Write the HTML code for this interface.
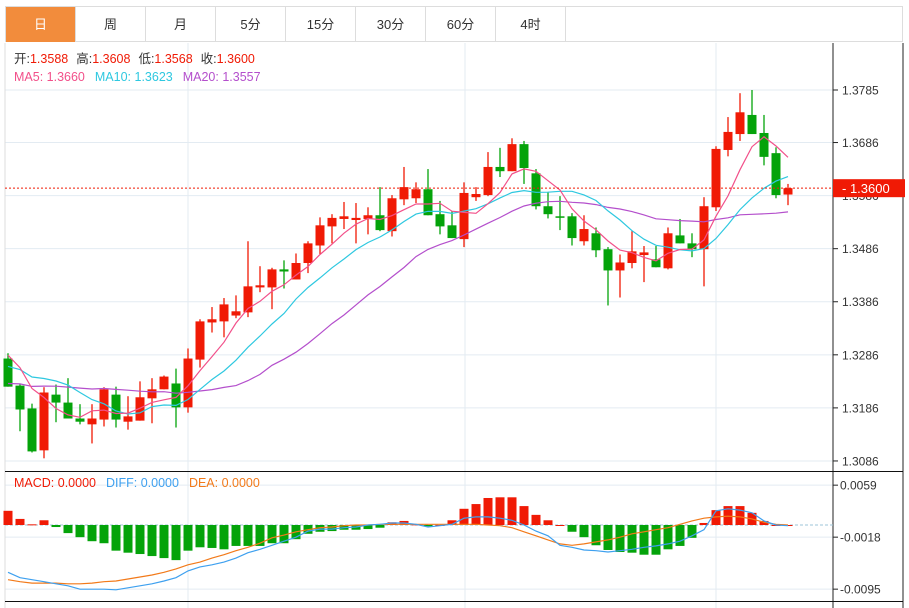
<!DOCTYPE html>
<html><head><meta charset="utf-8">
<style>
body{margin:0;width:909px;height:608px;background:#fff;overflow:hidden;font-family:"Liberation Sans","Noto Sans CJK SC",sans-serif;}
#tabs{position:absolute;left:5px;top:6px;width:898px;height:36px;border:1px solid #ddd;box-sizing:border-box;}
.tab{position:absolute;top:0;height:35px;width:70px;line-height:35px;text-align:center;font-size:13px;color:#333;border-right:1px solid #ddd;box-sizing:border-box;}
.tab.on{background:#f28c3c;color:#fff;}
svg{position:absolute;left:0;top:0;}
</style></head><body>
<div id="tabs">
<div class="tab on" style="left:0">日</div>
<div class="tab" style="left:70px">周</div>
<div class="tab" style="left:140px">月</div>
<div class="tab" style="left:210px">5分</div>
<div class="tab" style="left:280px">15分</div>
<div class="tab" style="left:350px">30分</div>
<div class="tab" style="left:420px">60分</div>
<div class="tab" style="left:490px">4时</div>
</div>
<svg id="chart" width="909" height="608"></svg>
<script>
const opens =[1.3279,1.3228,1.3185,1.3106,1.3211,1.3196,1.3166,1.3155,1.3164,1.3211,1.3160,1.3162,1.3204,1.3221,1.3232,1.3187,1.3277,1.3347,1.3349,1.3360,1.3366,1.3413,1.3413,1.3447,1.3428,1.3459,1.3492,1.3528,1.3542,1.3540,1.3542,1.3549,1.3519,1.3579,1.3581,1.3598,1.3551,1.3530,1.3504,1.3583,1.3587,1.3640,1.3632,1.3683,1.3628,1.3566,1.3547,1.3547,1.3500,1.3515,1.3485,1.3445,1.3459,1.3474,1.3466,1.3449,1.3511,1.3496,1.3485,1.3564,1.3672,1.3702,1.3738,1.3704,1.3666,1.3588];
const highs =[1.3289,1.3232,1.3194,1.3225,1.3230,1.3242,1.3193,1.3193,1.3225,1.3226,1.3208,1.3236,1.3242,1.3247,1.3260,1.3298,1.3353,1.3376,1.3393,1.3398,1.3500,1.3453,1.3450,1.3464,1.3477,1.3500,1.3545,1.3551,1.3574,1.3572,1.3564,1.3602,1.3587,1.3640,1.3611,1.3636,1.3576,1.3557,1.3611,1.3602,1.3668,1.3676,1.3694,1.3689,1.3636,1.3593,1.3585,1.3553,1.3549,1.3526,1.3489,1.3475,1.3519,1.3491,1.3491,1.3526,1.3542,1.3515,1.3583,1.3679,1.3734,1.3779,1.3785,1.3738,1.3677,1.3608];
const lows  =[1.3226,1.3142,1.3102,1.3091,1.3159,1.3166,1.3155,1.3119,1.3151,1.3149,1.3145,1.3162,1.3157,1.3221,1.3149,1.3177,1.3262,1.3328,1.3319,1.3355,1.3357,1.3404,1.3372,1.3411,1.3428,1.3440,1.3476,1.3496,1.3523,1.3496,1.3513,1.3519,1.3509,1.3568,1.3572,1.3549,1.3513,1.3506,1.3489,1.3576,1.3585,1.3621,1.3632,1.3608,1.3560,1.3543,1.3521,1.3492,1.3492,1.3470,1.3379,1.3394,1.3449,1.3423,1.3451,1.3447,1.3496,1.3470,1.3415,1.3557,1.3660,1.3689,1.3702,1.3643,1.3581,1.3568];
const closes=[1.3226,1.3183,1.3104,1.3215,1.3196,1.3166,1.3160,1.3166,1.3221,1.3164,1.3170,1.3206,1.3221,1.3245,1.3187,1.3279,1.3349,1.3353,1.3381,1.3368,1.3415,1.3417,1.3447,1.3443,1.3459,1.3496,1.3530,1.3544,1.3547,1.3544,1.3549,1.3521,1.3581,1.3602,1.3598,1.3549,1.3528,1.3506,1.3591,1.3589,1.3640,1.3632,1.3683,1.3638,1.3566,1.3551,1.3545,1.3506,1.3523,1.3483,1.3445,1.3460,1.3481,1.3479,1.3451,1.3515,1.3496,1.3485,1.3566,1.3674,1.3706,1.3743,1.3702,1.3659,1.3587,1.3600];
const priorCloses=[1.3200,1.3200,1.3200,1.3200,1.3200,1.3200,1.3200,1.3200,1.3200,1.3200,1.3243,1.3243,1.3243,1.3243,1.3243,1.3300,1.3300,1.3300,1.3300];
const diffVals=[-0.0070,-0.0078,-0.0081,-0.0084,-0.0087,-0.0090,-0.0095,-0.0095,-0.0095,-0.0096,-0.0093,-0.0090,-0.0087,-0.0083,-0.0078,-0.0068,-0.0062,-0.0059,-0.0055,-0.0049,-0.0041,-0.0036,-0.0030,-0.0024,-0.0018,-0.0009,-0.0006,-0.0006,-0.0004,-0.0003,0.0000,0.0001,0.0003,0.0003,0.0001,-0.0003,-0.0001,0.0001,0.0010,0.0012,0.0012,0.0010,0.0007,0.0000,-0.0009,-0.0016,-0.0030,-0.0033,-0.0037,-0.0038,-0.0040,-0.0038,-0.0036,-0.0033,-0.0031,-0.0028,-0.0024,-0.0016,-0.0007,0.0021,0.0024,0.0022,0.0018,0.0006,0.0000,-0.0001];
const deaVals=[-0.0081,-0.0084,-0.0086,-0.0086,-0.0086,-0.0087,-0.0087,-0.0086,-0.0084,-0.0083,-0.0080,-0.0077,-0.0074,-0.0070,-0.0065,-0.0059,-0.0055,-0.0049,-0.0044,-0.0038,-0.0033,-0.0027,-0.0019,-0.0015,-0.0010,-0.0007,-0.0004,-0.0003,-0.0001,0.0000,0.0000,0.0001,0.0001,0.0001,0.0001,0.0001,0.0001,0.0001,0.0001,0.0001,0.0000,-0.0001,-0.0004,-0.0010,-0.0016,-0.0022,-0.0028,-0.0030,-0.0028,-0.0025,-0.0022,-0.0018,-0.0013,-0.0010,-0.0007,-0.0004,0.0001,0.0006,0.0010,0.0012,0.0013,0.0012,0.0009,0.0004,0.0001,0.0000];
const macdVals=[0.0021,0.0009,0.0001,0.0007,-0.0003,-0.0012,-0.0018,-0.0024,-0.0027,-0.0038,-0.0041,-0.0043,-0.0046,-0.0049,-0.0052,-0.0038,-0.0033,-0.0034,-0.0036,-0.0031,-0.0031,-0.0031,-0.0027,-0.0027,-0.0021,-0.0013,-0.0010,-0.0009,-0.0007,-0.0007,-0.0006,-0.0004,0.0004,0.0006,0.0001,-0.0002,0.0000,0.0007,0.0024,0.0031,0.0040,0.0041,0.0041,0.0028,0.0015,0.0007,0.0000,-0.0010,-0.0018,-0.0030,-0.0037,-0.0040,-0.0041,-0.0044,-0.0044,-0.0036,-0.0031,-0.0019,0.0003,0.0022,0.0028,0.0028,0.0018,0.0006,0.0000,0.0000];
const priceTicks=[1.3785,1.3686,1.3586,1.3486,1.3386,1.3286,1.3186,1.3086];
const macdTicks=[0.0059,-0.0018,-0.0095];
const lastPrice=1.3600;

const NS='http://www.w3.org/2000/svg';
const svg=document.getElementById('chart');
function mk(tag,attrs,parent){const e=document.createElementNS(NS,tag);for(const k in attrs)e.setAttribute(k,attrs[k]);(parent||svg).appendChild(e);return e;}
const L=5,R=833;
const yP=p=>90+(1.3785-p)*5307;
const yM=v=>525-v*6753;
const xI=i=>8+i*12;

priceTicks.forEach(t=>{const g=mk('line',{x1:L,x2:R,y1:yP(t),y2:yP(t),stroke:'#e3ebf2','stroke-width':1});

});
macdTicks.forEach(t=>{const g=mk('line',{x1:L,x2:R,y1:yM(t),y2:yM(t),stroke:'#e3ebf2','stroke-width':1});

});
[188,465,716].forEach(x=>{mk('line',{x1:x,x2:x,y1:43,y2:608,stroke:'#e3ebf2','stroke-width':1});});
mk('line',{x1:L,x2:L,y1:43,y2:608,stroke:'#ddd'});
mk('line',{x1:903,x2:903,y1:43,y2:608,stroke:'#222'});
mk('line',{x1:R,x2:R,y1:43,y2:608,stroke:'#222'});
mk('line',{x1:L,x2:903,y1:471.5,y2:471.5,stroke:'#111'});
mk('line',{x1:L,x2:903,y1:601.5,y2:601.5,stroke:'#111'});

opens.forEach((o,i)=>{const c=closes[i],up=c>=o,col=up?'#f01a05':'#04a30a',x=xI(i);
const w=mk('line',{x1:x,x2:x,y1:yP(highs[i]),y2:yP(lows[i]),stroke:col,'stroke-width':1.3});


const t=Math.min(yP(o),yP(c)),h=Math.max(1.5,Math.abs(yP(o)-yP(c)));
const b=mk('rect',{x:x-4.5,y:t,width:9,height:h,fill:col});

});

const all=priorCloses.concat(closes),off=priorCloses.length;
function ma(n){return closes.map((_,i)=>{let s=0;for(let k=0;k<n;k++)s+=all[off+i-k];return s/n;});}
function line(vals,fy,col,name,sw){const d=vals.map((v,i)=>(i?'L':'M')+xI(i)+','+fy(v).toFixed(1)).join('');
const p=mk('path',{d:d,fill:'none',stroke:col,'stroke-width':sw||1.2});

}
line(ma(20),yP,'#b44fcc','ma20-line');
line(ma(10),yP,'#2ec8e0','ma10-line');
line(ma(5),yP,'#f2508a','ma5-line');

mk('line',{x1:L,x2:R,y1:yP(lastPrice),y2:yP(lastPrice),stroke:'#f01a05','stroke-dasharray':'2,2'});

mk('line',{x1:L,x2:R,y1:525,y2:525,stroke:'#9cc6d8','stroke-dasharray':'3,2'});
macdVals.forEach((v,i)=>{const y0=yM(0),y1=yM(v);const r=mk('rect',{x:xI(i)-4.5,y:Math.min(y0,y1),width:9,height:Math.max(1,Math.abs(y1-y0)),fill:v>=0?'#f01a05':'#04a30a'});

});
line(deaVals,yM,'#f27a1a','dea-line');
line(diffVals,yM,'#3ea0ef','diff-line');

priceTicks.forEach(t=>{mk('line',{x1:R,x2:R+5,y1:yP(t),y2:yP(t),stroke:'#222'});
const tx=mk('text',{x:842,y:yP(t)+4.5,'font-size':12,fill:'#333'});tx.textContent=t.toFixed(4);

});
macdTicks.forEach(t=>{mk('line',{x1:R,x2:R+5,y1:yM(t),y2:yM(t),stroke:'#222'});
const tx=mk('text',{x:840,y:yM(t)+4.5,'font-size':12,fill:'#333'});tx.textContent=t.toFixed(4);

});
const lb=mk('rect',{x:833,y:yP(lastPrice)-9,width:72,height:18,fill:'#f01a05'});


const lt=mk('text',{x:842,y:yP(lastPrice)+5,'font-size':13,fill:'#fff'});lt.textContent='- 1.3600';



function legend(y,items,name){const t=mk('text',{x:14,y:y,'font-size':12.5});


items.forEach(([s,c,gap])=>{const sp=mk('tspan',{fill:c},t);if(gap)sp.setAttribute('dx',gap);sp.textContent=s;});}
legend(63,[['开:','#333'],['1.3588','#f01a05'],['高:','#333',8],['1.3608','#f01a05'],['低:','#333',8],['1.3568','#f01a05'],['收:','#333',8],['1.3600','#f01a05']],'ohlc-legend');
legend(81,[['MA5: 1.3660','#f2508a'],['MA10: 1.3623','#2ec8e0',10],['MA20: 1.3557','#b44fcc',10]],'ma-legend');
legend(487,[['MACD: 0.0000','#f01a05'],['DIFF: 0.0000','#3ea0ef',10],['DEA: 0.0000','#f27a1a',10]],'macd-legend');
</script>
</body></html>
